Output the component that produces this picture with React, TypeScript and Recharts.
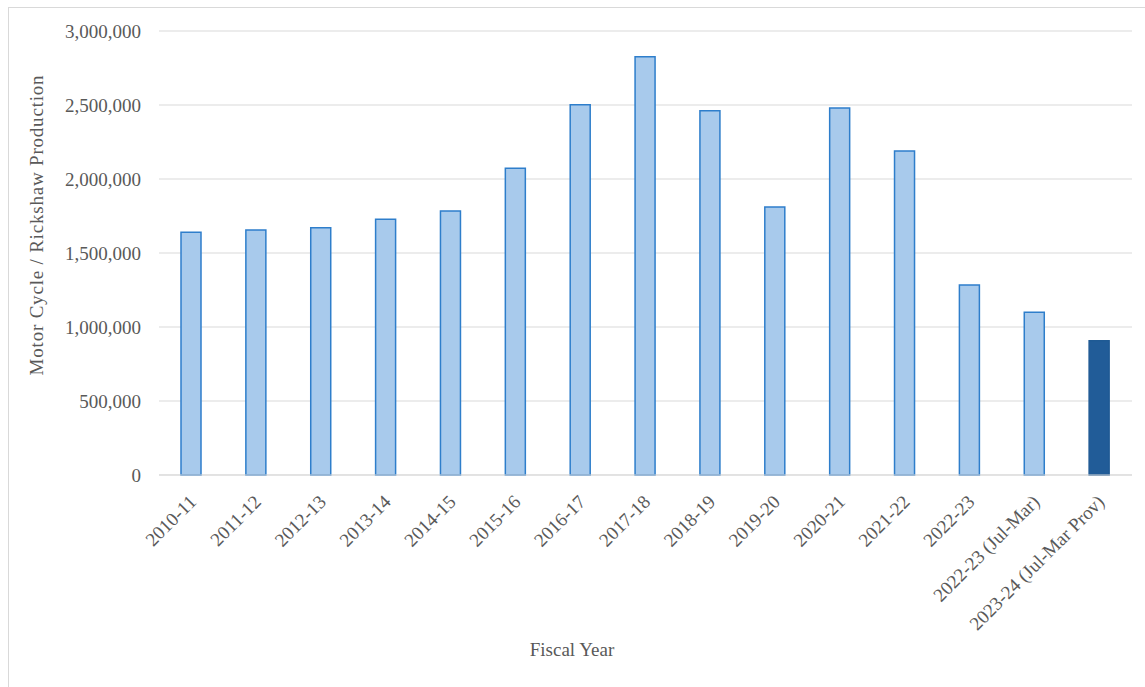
import React from "react";
import { BarChart, Bar, XAxis, YAxis, CartesianGrid, Cell } from "recharts";

const categories = [
  "2010-11",
  "2011-12",
  "2012-13",
  "2013-14",
  "2014-15",
  "2015-16",
  "2016-17",
  "2017-18",
  "2018-19",
  "2019-20",
  "2020-21",
  "2021-22",
  "2022-23",
  "2022-23 (Jul-Mar)",
  "2023-24 (Jul-Mar Prov)",
];

const production = [
  1640000, 1655000, 1671000, 1728000, 1784000, 2072000, 2502000, 2826000,
  2461000, 1811000, 2480000, 2189000, 1284000, 1099000, 907000,
];

const yTicks = [0, 500000, 1000000, 1500000, 2000000, 2500000, 3000000];

const highlighted = ["2023-24 (Jul-Mar Prov)"];

const data = categories.map((c, i) => ({ year: c, value: production[i] }));

const FONT = "'Liberation Serif', 'Times New Roman', serif";
const TEXT = "#595959";
const FS = 19;

const XTick = (props: any) => {
  const { x, y, payload } = props;
  const X = x + 6;
  const Y = y + 28;
  return (
    <text
      x={X}
      y={Y}
      transform={`rotate(-45 ${X} ${Y})`}
      textAnchor="end"
      fontFamily={FONT}
      fontSize={FS}
      fill={TEXT}
    >
      {payload.value}
    </text>
  );
};

const fmt = (v: number) => v.toLocaleString("en-US");

export default function App() {
  return (
    <div
      style={{
        position: "fixed",
        left: 0,
        top: 0,
        width: 1145,
        height: 687,
        overflow: "hidden",
        background: "#fff",
      }}
    >
      <div
        style={{
          position: "absolute",
          left: 8,
          top: 7,
          width: 1160,
          height: 700,
          border: "1px solid #d9d9d9",
        }}
      />
      <div style={{ position: "absolute", left: 0, top: 0 }}>
        <BarChart
          width={1145}
          height={687}
          data={data}
          margin={{ top: 31, right: 13, bottom: 0, left: 0 }}
          barCategoryGap="34%"
        >
          <CartesianGrid vertical={false} stroke="#d9d9d9" strokeWidth={1} />
          <XAxis
            dataKey="year"
            interval={0}
            height={212}
            tickLine={false}
            tickSize={0}
            tickMargin={0}
            axisLine={{ stroke: "#d9d9d9", strokeWidth: 1 }}
            tick={<XTick />}
            label={{
              content: () => (
                <text
                  x={572}
                  y={656}
                  textAnchor="middle"
                  fontFamily={FONT}
                  fontSize={FS}
                  fill={TEXT}
                >
                  Fiscal Year
                </text>
              ),
            }}
          />
          <YAxis
            width={159}
            domain={[0, 3000000]}
            ticks={yTicks}
            interval={0}
            tickFormatter={fmt}
            axisLine={false}
            tickLine={false}
            tickSize={0}
            tickMargin={18}
            tick={{ fontFamily: FONT, fontSize: FS, fill: TEXT }}
            label={{
              content: () => (
                <text
                  x={43}
                  y={225}
                  transform="rotate(-90 43 225)"
                  textAnchor="middle"
                  fontFamily={FONT}
                  fontSize={FS}
                  letterSpacing={0.8}
                  fill={TEXT}
                >
                  Motor Cycle / Rickshaw Production
                </text>
              ),
            }}
          />
          <Bar dataKey="value" barSize={20} strokeWidth={1.5} isAnimationActive={false}>
            {data.map((d) => {
              const hi = highlighted.includes(d.year);
              return (
                <Cell
                  key={d.year}
                  fill={hi ? "#215C98" : "#A8CAEC"}
                  stroke={hi ? "#1F5A94" : "#2E7ECB"}
                />
              );
            })}
          </Bar>
        </BarChart>
      </div>
    </div>
  );
}
